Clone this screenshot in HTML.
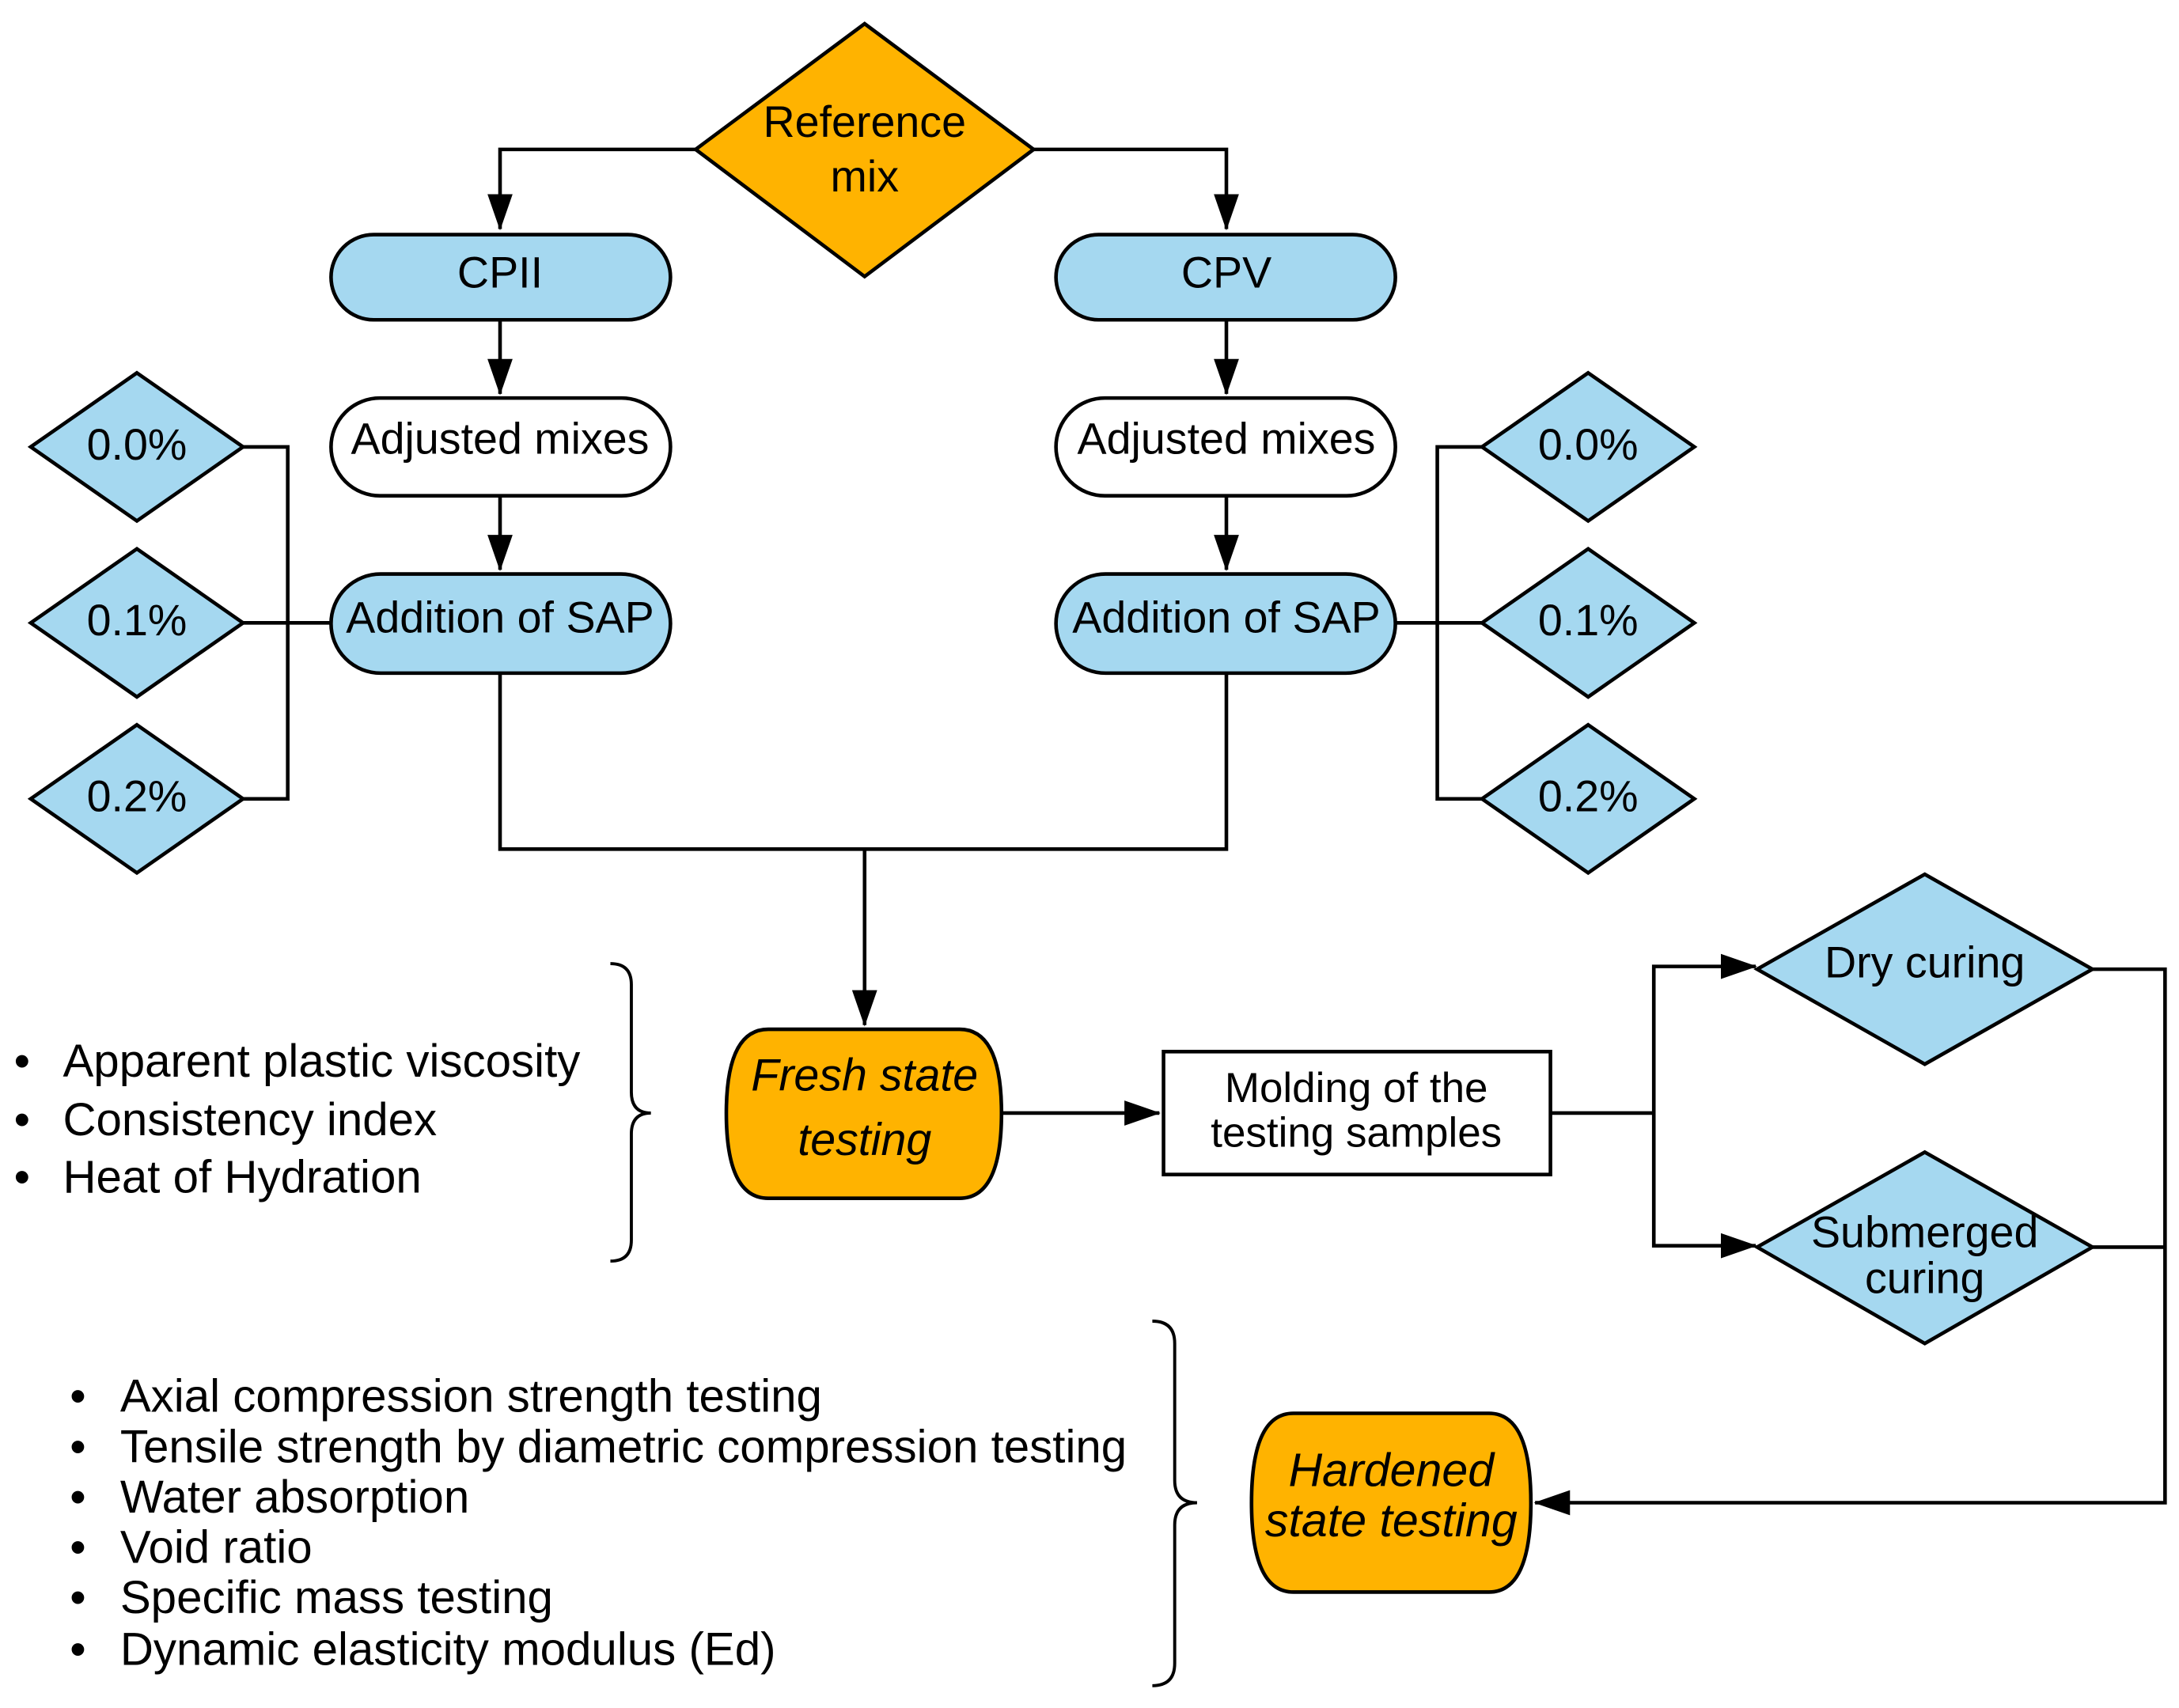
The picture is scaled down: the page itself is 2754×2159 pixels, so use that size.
<!DOCTYPE html>
<html><head><meta charset="utf-8"><style>
html,body{margin:0;padding:0;background:#fff}
svg{display:block}
text{font-family:"Liberation Sans",Arial,sans-serif;fill:#000}
</style></head><body>
<svg width="2754" height="2159" viewBox="0 0 1560 1223" preserveAspectRatio="none" xmlns="http://www.w3.org/2000/svg">
<defs>
<marker id="b" markerWidth="26" markerHeight="18" refX="25" refY="9" orient="auto" markerUnits="userSpaceOnUse" viewBox="0 0 26 18"><path d="M0,0 L26,9 L0,18Z" fill="#000"/></marker>
</defs>
<g fill="none" stroke="#000" stroke-width="2.6">
<path d="M498,107 H358 V164" marker-end="url(#b)"/>
<path d="M740,107 H878 V164" marker-end="url(#b)"/>
<path d="M358,229 V282" marker-end="url(#b)"/>
<path d="M878,229 V282" marker-end="url(#b)"/>
<path d="M358,355 V408" marker-end="url(#b)"/>
<path d="M878,355 V408" marker-end="url(#b)"/>
<path d="M174,320 H206 V572 H174 M174,446 H237"/>
<path d="M1061,320 H1029 V572 H1061 M999,446 H1061"/>
<path d="M358,482 V608 H878 V482"/>
<path d="M619,608 V734" marker-end="url(#b)"/>
<path d="M717,797 H830" marker-end="url(#b)"/>
<path d="M1110,797 H1184"/>
<path d="M1184,797 V692 H1257" marker-end="url(#b)"/>
<path d="M1184,797 V892 H1257" marker-end="url(#b)"/>
<path d="M1498,694 H1550 V1076 H1099" marker-end="url(#b)"/>
<path d="M1498,893 H1550"/>
</g>
<g stroke="#000" stroke-width="2.6">
<polygon points="619,17 740,107 619,198 498,107" fill="#FFB300"/>
<rect x="237" y="168" width="243" height="61" rx="30.5" fill="#A5D8F0"/>
<rect x="756" y="168" width="243" height="61" rx="30.5" fill="#A5D8F0"/>
<rect x="237" y="285" width="243" height="70" rx="35" fill="#fff"/>
<rect x="756" y="285" width="243" height="70" rx="35" fill="#fff"/>
<rect x="237" y="411" width="243" height="71" rx="35.5" fill="#A5D8F0"/>
<rect x="756" y="411" width="243" height="71" rx="35.5" fill="#A5D8F0"/>
<g fill="#A5D8F0">
<polygon points="98,267 174,320 98,373 22,320"/>
<polygon points="98,393 174,446 98,499 22,446"/>
<polygon points="98,519 174,572 98,625 22,572"/>
<polygon points="1137,267 1213,320 1137,373 1061,320"/>
<polygon points="1137,393 1213,446 1137,499 1061,446"/>
<polygon points="1137,519 1213,572 1137,625 1061,572"/>
<polygon points="1378,626 1498,694 1378,762 1258,694"/>
<polygon points="1378,825 1498,893 1378,962 1258,893"/>
</g>
<path d="M550,737 H687 Q717,737 717,797 Q717,858 687,858 H550 Q520,858 520,797 Q520,737 550,737Z" fill="#FFB300"/>
<path d="M926,1012 H1066 Q1096,1012 1096,1076 Q1096,1140 1066,1140 H926 Q896,1140 896,1076 Q896,1012 926,1012Z" fill="#FFB300"/>
<rect x="833" y="753" width="277" height="88" fill="#fff"/>
</g>
<g fill="none" stroke="#000" stroke-width="2.2">
<path d="M437,690 Q452,690 452,705 V782 Q452,797 466,797 Q452,797 452,812 V888 Q452,903 437,903"/>
<path d="M825,946 Q841,946 841,962 V1060 Q841,1076 857,1076 Q841,1076 841,1092 V1191 Q841,1207 825,1207"/>
</g>
<g font-size="31.5" text-anchor="middle">
<text x="619" y="98">Reference</text><text x="619" y="137">mix</text>
<text x="358" y="206">CPII</text><text x="878" y="206">CPV</text>
<text x="358" y="325">Adjusted mixes</text><text x="878" y="325">Adjusted mixes</text>
<text x="358" y="453">Addition of SAP</text><text x="878" y="453">Addition of SAP</text>
<text x="98" y="329">0.0%</text><text x="98" y="455">0.1%</text><text x="98" y="581">0.2%</text>
<text x="1137" y="329">0.0%</text><text x="1137" y="455">0.1%</text><text x="1137" y="581">0.2%</text>
<text x="1378" y="700">Dry curing</text>
<text x="1378" y="893">Submerged</text><text x="1378" y="926">curing</text>
<text x="971" y="789" font-size="30">Molding of the</text><text x="971" y="821" font-size="30">testing samples</text>
<text x="619" y="781" font-style="italic" font-size="32.5">Fresh state</text><text x="619" y="827" font-style="italic" font-size="32.5">testing</text>
<text x="996" y="1064" font-style="italic" font-size="33.5">Hardened</text><text x="996" y="1100" font-style="italic" font-size="33.5">state testing</text>
</g>
<g font-size="33">
<text x="10" y="771">•</text><text x="45" y="771">Apparent plastic viscosity</text>
<text x="10" y="813">•</text><text x="45" y="813">Consistency index</text>
<text x="10" y="854">•</text><text x="45" y="854">Heat of Hydration</text>
<text x="50" y="1011">•</text><text x="86" y="1011">Axial compression strength testing</text>
<text x="50" y="1047">•</text><text x="86" y="1047">Tensile strength by diametric compression testing</text>
<text x="50" y="1083">•</text><text x="86" y="1083">Water absorption</text>
<text x="50" y="1119">•</text><text x="86" y="1119">Void ratio</text>
<text x="50" y="1155">•</text><text x="86" y="1155">Specific mass testing</text>
<text x="50" y="1192">•</text><text x="86" y="1192">Dynamic elasticity modulus (Ed)</text>
</g>
</svg>
</body></html>
